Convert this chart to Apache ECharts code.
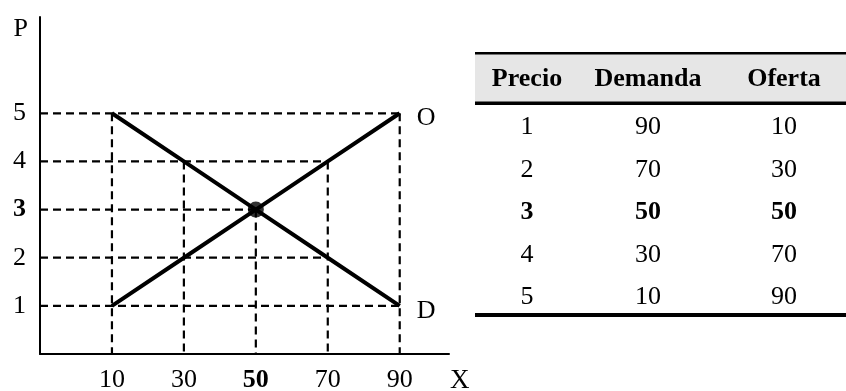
<!DOCTYPE html>
<html>
<head>
<meta charset="utf-8">
<script src="https://cdn.jsdelivr.net/npm/echarts@6/dist/echarts.min.js"></script>
<style>
  html, body { margin: 0; padding: 0; background: #ffffff; }
  #chart { width: 846px; height: 391px; }
</style>
</head>
<body>
<div id="chart"></div>
<script>
// Market schedule: price, quantity demanded, quantity supplied
const precio  = [1, 2, 3, 4, 5];
const demanda = [90, 70, 50, 30, 10];
const oferta  = [10, 30, 50, 70, 90];

// Axis tick labels
const xTicks = [10, 30, 50, 70, 90];
const yTicks = [1, 2, 3, 4, 5];

// Table headings
const headers = ['Precio', 'Demanda', 'Oferta'];

const FONT = '"Liberation Serif", "Times New Roman", serif';
const FS = 26;
const X_MIN = -10, X_MAX = 103.7, Y_MIN = 0, Y_MAX = 7;

// Equilibrium: price where quantity demanded equals quantity supplied
const eqIndex = precio.findIndex((p, i) => demanda[i] === oferta[i]);
const eqPrice = precio[eqIndex];
const eqQty = demanda[eqIndex];

// Dashed guide lines: horizontal from the P axis to the farthest point at each price,
// vertical from each point down to the X axis
const guides = [];
precio.forEach((p, i) => {
  guides.push([[X_MIN, p], [Math.max(demanda[i], oferta[i]), p]]);
});
const topPriceAt = {};
precio.forEach((p, i) => {
  [demanda[i], oferta[i]].forEach(q => {
    topPriceAt[q] = Math.max(topPriceAt[q] || 0, p);
  });
});
Object.keys(topPriceAt).forEach(q => {
  guides.push([[Number(q), topPriceAt[q]], [Number(q), Y_MIN]]);
});

const guideSeries = guides.map(seg => ({
  type: 'line',
  data: seg,
  symbol: 'none',
  silent: true,
  z: 1,
  lineStyle: { color: '#000', width: 2.2, type: [8, 5] }
}));

const lastIdx = precio.length - 1;
function curveData(qs, tag) {
  return precio.map((p, i) => {
    const item = { value: [qs[i], p] };
    if (i === (tag === 'O' ? lastIdx : 0)) {
      item.label = {
        show: true, position: 'right', distance: 17, offset: [0, 5],
        formatter: tag, fontFamily: FONT, fontSize: FS, color: '#000'
      };
    }
    return item;
  });
}

// Table drawn as text blocks
const tableLeft = 475, tableRight = 846;
const colX = [527, 648, 784];
const headerMid = 79;
const rowY = [127, 170, 212, 255, 297];
const graphics = [
  { type: 'rect', shape: { x: tableLeft, y: 54, width: tableRight - tableLeft, height: 48 },
    style: { fill: '#e6e6e6' }, silent: true },
  { type: 'rect', shape: { x: tableLeft, y: 52, width: tableRight - tableLeft, height: 2.5 },
    style: { fill: '#000' }, silent: true },
  { type: 'rect', shape: { x: tableLeft, y: 101.5, width: tableRight - tableLeft, height: 3.5 },
    style: { fill: '#000' }, silent: true },
  { type: 'rect', shape: { x: tableLeft, y: 313, width: tableRight - tableLeft, height: 4 },
    style: { fill: '#000' }, silent: true }
];
headers.forEach((h, c) => {
  graphics.push({
    type: 'text', x: colX[c], y: headerMid, silent: true,
    style: { text: h, fill: '#000', font: 'bold ' + FS + 'px ' + FONT, textAlign: 'center', textVerticalAlign: 'middle' }
  });
});
precio.forEach((p, r) => {
  const bold = r === eqIndex;
  [p, demanda[r], oferta[r]].forEach((v, c) => {
    graphics.push({
      type: 'text', x: colX[c], y: rowY[r], silent: true,
      style: { text: String(v), fill: '#000', font: (bold ? 'bold ' : '') + FS + 'px ' + FONT,
               textAlign: 'center', textVerticalAlign: 'middle' }
    });
  });
});

const chart = echarts.init(document.getElementById('chart'), null, { renderer: 'canvas' });
chart.setOption({
  animation: false,
  backgroundColor: '#ffffff',
  grid: { left: 40, right: 397, top: 17, bottom: 37, containLabel: false, outerBoundsMode: 'none' },
  xAxis: {
    type: 'value', min: X_MIN, max: X_MAX, interval: 20,
    name: 'X', nameLocation: 'end', nameGap: 1,
    nameTextStyle: { fontFamily: FONT, fontSize: 27, color: '#000', verticalAlign: 'top', align: 'left', padding: [13, 0, 0, 0] },
    axisLine: { onZero: false, lineStyle: { color: '#000', width: 2 } },
    axisTick: { show: false },
    splitLine: { show: false },
    axisLabel: {
      margin: 13, color: '#000', fontFamily: FONT, fontSize: FS,
      formatter: v => xTicks.includes(v) ? (v === eqQty ? '{b|' + v + '}' : String(v)) : '',
      rich: { b: { fontFamily: FONT, fontSize: FS, fontWeight: 'bold', color: '#000' } }
    }
  },
  yAxis: {
    type: 'value', min: Y_MIN, max: Y_MAX, interval: 1,
    name: 'P', nameLocation: 'end', nameGap: 1,
    nameTextStyle: { fontFamily: FONT, fontSize: FS, color: '#000', align: 'right', verticalAlign: 'top', padding: [0, 12, 0, 0] },
    axisLine: { onZero: false, lineStyle: { color: '#000', width: 2 } },
    axisTick: { show: false },
    splitLine: { show: false },
    axisLabel: {
      margin: 14, color: '#000', fontFamily: FONT, fontSize: FS,
      formatter: v => yTicks.includes(v) ? (v === eqPrice ? '{b|' + v + '}' : String(v)) : '',
      rich: { b: { fontFamily: FONT, fontSize: FS, fontWeight: 'bold', color: '#000' } }
    }
  },
  graphic: graphics,
  series: guideSeries.concat([
    {
      name: 'Demanda', type: 'line', z: 3, symbol: 'circle', symbolSize: 0.01,
      data: curveData(demanda, 'D'),
      lineStyle: { color: '#000', width: 4 }
    },
    {
      name: 'Oferta', type: 'line', z: 3, symbol: 'circle', symbolSize: 0.01,
      data: curveData(oferta, 'O'),
      lineStyle: { color: '#000', width: 4 }
    },
    {
      name: 'Equilibrio', type: 'scatter', z: 4, symbolSize: 16,
      itemStyle: { color: '#000' },
      data: [[eqQty, eqPrice]]
    }
  ])
});
</script>
</body>
</html>
